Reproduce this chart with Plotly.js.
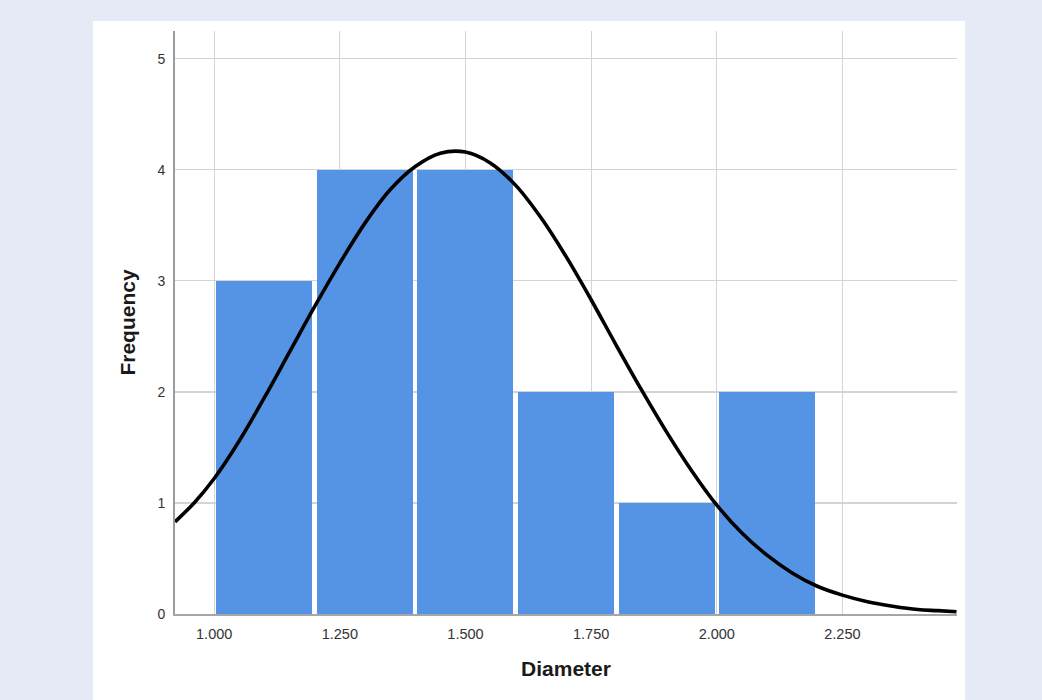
<!DOCTYPE html>
<html>
<head>
<meta charset="utf-8">
<script src="https://cdn.plot.ly/plotly-3.0.1.min.js"></script>
<style>
html,body{margin:0;padding:0;background:#e6eaf6;}
#chart{width:1042px;height:700px;}
</style>
</head>
<body>
<div id="chart"></div>
<script>
// Histogram bins (centers) and frequencies
var binCenters = [1.1, 1.3, 1.5, 1.7, 1.9, 2.1];
var frequencies = [3, 4, 4, 2, 1, 2];
var binWidth = 0.2;

// Normal curve points
var curveX = [0.922, 0.96, 1.0, 1.05, 1.1, 1.15, 1.2, 1.25, 1.3, 1.35, 1.4, 1.45, 1.5, 1.55, 1.6, 1.65, 1.7, 1.75, 1.8, 1.85, 1.9, 1.95, 2.0, 2.05, 2.1, 2.15, 2.2, 2.25, 2.3, 2.35, 2.4, 2.44, 2.477];
var curveY = [0.83, 1.0, 1.22, 1.56, 1.95, 2.36, 2.77, 3.16, 3.52, 3.82, 4.03, 4.15, 4.16, 4.06, 3.86, 3.57, 3.22, 2.83, 2.42, 2.02, 1.64, 1.29, 0.98, 0.73, 0.53, 0.37, 0.25, 0.17, 0.11, 0.07, 0.04, 0.03, 0.02];

// Axis ticks
var xTickVals = [1.0, 1.25, 1.5, 1.75, 2.0, 2.25];
var xTickText = ['1.000', '1.250', '1.500', '1.750', '2.000', '2.250'];
var yTickVals = [0, 1, 2, 3, 4, 5];

var bars = {
  type: 'bar',
  x: binCenters,
  y: frequencies,
  width: binCenters.map(function(){ return binWidth * 0.955; }),
  marker: {color: '#5594e4', line: {width: 0}},
  hoverinfo: 'x+y',
  showlegend: false
};

var curve = {
  type: 'scatter',
  mode: 'lines',
  x: curveX,
  y: curveY,
  line: {color: '#000000', width: 3.6, shape: 'spline', smoothing: 1},
  hoverinfo: 'skip',
  showlegend: false
};

var layout = {
  width: 1042,
  height: 700,
  paper_bgcolor: '#e6eaf6',
  plot_bgcolor: '#ffffff',
  margin: {l: 175, r: 85, t: 31, b: 86, pad: 0},
  font: {family: 'Liberation Sans, Arial, sans-serif', color: '#333333'},
  bargap: 0,
  xaxis: {
    range: [0.922, 2.478],
    tickvals: xTickVals,
    ticktext: xTickText,
    showgrid: true,
    gridcolor: '#d4d4d4',
    gridwidth: 1.2,
    zeroline: false,
    showline: true,
    linecolor: '#a6a6a6',
    linewidth: 1.5,
    ticks: 'outside',
    ticklen: 6,
    tickcolor: 'rgba(0,0,0,0)',
    tickfont: {size: 14.5, color: '#333333'},
    title: {text: 'Diameter', font: {size: 21, color: '#1a1a1a', family: 'Liberation Sans, Arial, sans-serif', weight: 'bold'}, standoff: 20},
    fixedrange: true
  },
  yaxis: {
    range: [0, 5.25],
    tickvals: yTickVals,
    showgrid: true,
    gridcolor: '#d4d4d4',
    gridwidth: 1.2,
    zeroline: false,
    showline: true,
    linecolor: '#9c9c9c',
    linewidth: 2,
    ticks: 'outside',
    ticklen: 5,
    tickcolor: 'rgba(0,0,0,0)',
    tickfont: {size: 14, color: '#333333'},
    title: {text: 'Frequency', font: {size: 21, color: '#1a1a1a', family: 'Liberation Sans, Arial, sans-serif', weight: 'bold'}, standoff: 16},
    fixedrange: true
  },
  shapes: [{
    type: 'rect', xref: 'paper', yref: 'paper', layer: 'below',
    x0: -0.1049, x1: 1.0102, y0: -0.2, y1: 1.0172,
    fillcolor: '#ffffff', line: {width: 0}
  }]
};

Plotly.newPlot('chart', [bars, curve], layout, {displayModeBar: false, staticPlot: true});
</script>
</body>
</html>
